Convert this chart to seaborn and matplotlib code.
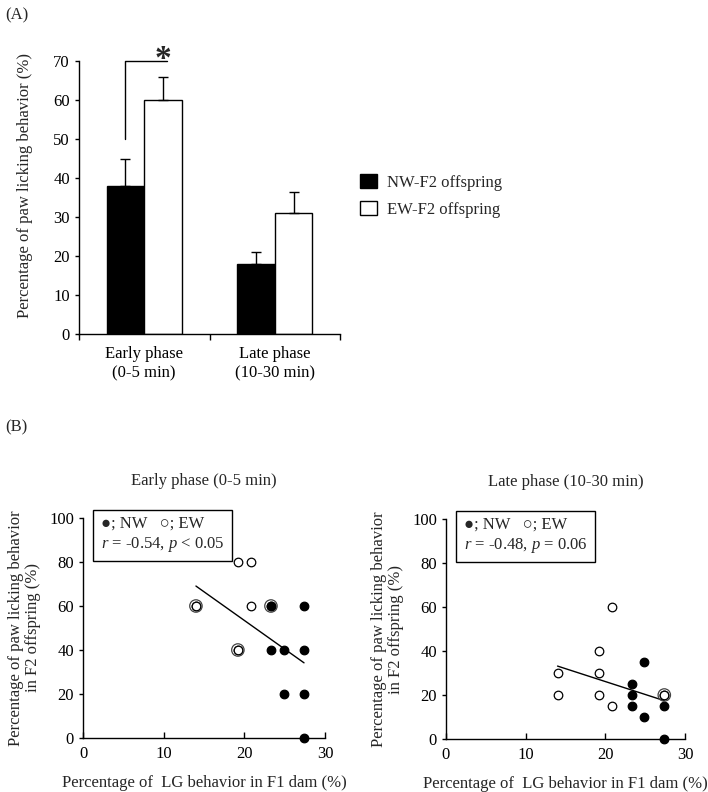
import numpy as np
import pandas as pd
import matplotlib
matplotlib.use("Agg")
import matplotlib.pyplot as plt
import seaborn as sns

# --- (A) bar chart data ---
phases = ["Early phase\n(0-5 min)", "Late phase\n(10-30 min)"]
groups = ["NW-F2 offspring", "EW-F2 offspring"]
nw_means = [38, 18]
nw_sem = [7, 3]
ew_means = [60, 31]
ew_sem = [6, 5.5]

# --- (B) scatter data: LG behavior of F1 dam vs paw licking of F2 offspring ---
early_nw_x = [23.3, 27.4, 23.3, 24.9, 27.4, 24.9, 27.4, 27.4]
early_nw_y = [60, 60, 40, 40, 40, 20, 20, 0]
early_ew_x = [19.2, 20.8, 14.0, 14.0, 20.8, 19.2, 19.2, 23.3]
early_ew_y = [80, 80, 60, 60, 60, 40, 40, 60]

late_nw_x = [24.9, 23.3, 23.3, 23.3, 24.9, 27.4, 27.4, 27.4]
late_nw_y = [35, 25, 20, 15, 10, 20, 15, 0]
late_ew_x = [20.8, 19.2, 14.0, 19.2, 14.0, 19.2, 20.8, 27.4]
late_ew_y = [60, 40, 30, 30, 20, 20, 15, 20]

early_stats = "$r$ = -0.54, $p$ < 0.05"
late_stats = "$r$ = -0.48, $p$ = 0.06"

sns.set_style("ticks")
plt.rcParams["font.family"] = ["Liberation Serif", "DejaVu Sans"]
plt.rcParams["mathtext.fontset"] = "custom"
plt.rcParams["mathtext.rm"] = "Liberation Serif"
plt.rcParams["mathtext.it"] = "Liberation Serif:italic"
plt.rcParams["font.size"] = 12
plt.rcParams["axes.linewidth"] = 1
plt.rcParams["axes.edgecolor"] = "black"
plt.rcParams["xtick.color"] = "black"
plt.rcParams["ytick.color"] = "black"

W, H = 708, 792
fig = plt.figure(figsize=(W / 100, H / 100), dpi=100)
ax_bar = fig.add_axes([79 / W, 1 - 334 / H, 261 / W, 273 / H])
ax_e = fig.add_axes([83 / W, 1 - 738 / H, 242 / W, 220 / H])
ax_l = fig.add_axes([446 / W, 1 - 739 / H, 239 / W, 220 / H])

# ---------------- (A) ----------------
df_bar = pd.DataFrame({
    "phase": phases * 2,
    "group": [groups[0]] * 2 + [groups[1]] * 2,
    "value": nw_means + ew_means,
})
sns.barplot(data=df_bar, x="phase", y="value", hue="group", hue_order=groups,
            palette=["black", "white"], edgecolor="black", linewidth=1,
            width=0.575, errorbar=None, saturation=1, ax=ax_bar)

centers = {}
for cont, g, errs in zip(ax_bar.containers, groups, [nw_sem, ew_sem]):
    xs = [p.get_x() + p.get_width() / 2 for p in cont]
    hs = [p.get_height() for p in cont]
    centers[g] = xs
    ax_bar.errorbar(xs, hs, yerr=[np.zeros(len(errs)), errs], fmt="none",
                    ecolor="black", elinewidth=1, capsize=3.5, capthick=1)

# significance bracket
x0 = centers[groups[0]][0]
x1 = centers[groups[1]][0]
ax_bar.plot([x0, x0, x1 + 0.03], [50, 70, 70], color="black", lw=1, clip_on=False)
ax_bar.text(x1, 68.3, "*", ha="center", va="baseline", fontsize=24, fontweight="bold")

ax_bar.set_xlim(-0.5, 1.5)
ax_bar.set_ylim(0, 70)
ax_bar.set_yticks(range(0, 71, 10))
ax_bar.set_xticks([0, 1])
ax_bar.set_xticklabels(phases)
ax_bar.set_xticks([-0.5, 0.5, 1.5], minor=True)
ax_bar.tick_params(axis="x", which="major", length=0, pad=9, labelsize=12)
ax_bar.tick_params(axis="x", which="minor", length=4, width=1, direction="out")
ax_bar.tick_params(axis="y", length=3, width=1, labelsize=12)
ax_bar.set_xlabel("")
ax_bar.set_ylabel("Percentage of paw licking behavior (%)", fontsize=12)
ax_bar.yaxis.set_label_coords(-0.175, 0.545)
sns.despine(ax=ax_bar)
sns.move_legend(ax_bar, "center left", bbox_to_anchor=(1.077, 0.505), frameon=False,
                title=None, handlelength=1.0, handleheight=0.9, handletextpad=0.6,
                labelspacing=0.6, borderpad=0, borderaxespad=0, fontsize=12)

# ---------------- (B) ----------------
panels = [
    (ax_e, "Early phase (0-5 min)", early_nw_x, early_nw_y, early_ew_x, early_ew_y, early_stats, "NW"),
    (ax_l, "Late phase (10-30 min)", late_nw_x, late_nw_y, late_ew_x, late_ew_y, late_stats, "EW"),
]
for ax, title, nx, ny, ex, ey, stats, on_top in panels:
    df = pd.DataFrame({
        "x": nx + ex,
        "y": ny + ey,
        "group": ["NW"] * len(nx) + ["EW"] * len(ex),
    })
    sns.regplot(x=np.array(nx + ex), y=np.array(ny + ey), scatter=False, ci=None,
                truncate=True, color="black", line_kws={"lw": 1}, ax=ax)
    z_nw = 4 if on_top == "NW" else 3
    z_ew = 4 if on_top == "EW" else 3
    nw = df[df.group == "NW"]
    ew = df[df.group == "EW"]
    ax.scatter(ew.x, ew.y, s=38, facecolors="white", edgecolors="black",
               linewidths=0.9, zorder=z_ew, clip_on=False)
    ax.scatter(nw.x, nw.y, s=38, facecolors="black", edgecolors="black",
               linewidths=0.9, zorder=z_nw, clip_on=False)
    # overlapping points get an extra ring
    counts = df.groupby(["x", "y"]).size().reset_index(name="n")
    dup = counts[counts.n > 1]
    ax.scatter(dup.x, dup.y, s=80, facecolors="none", edgecolors="#444444",
               linewidths=0.9, zorder=5, clip_on=False)

    ax.set_xlim(0, 30)
    ax.set_ylim(0, 100)
    ax.set_xticks([0, 10, 20, 30])
    ax.set_yticks(range(0, 101, 20))
    ax.tick_params(axis="x", direction="in", length=4, width=1, labelsize=12, pad=6)
    ax.tick_params(axis="y", direction="out", length=3, width=1, labelsize=12)
    ax.set_title(title, fontsize=12, pad=24)
    ax.set_xlabel("Percentage of  LG behavior in F1 dam (%)", fontsize=12, labelpad=9)
    ax.set_ylabel("Percentage of paw licking behavior\nin F2 offspring (%)",
                  fontsize=12, labelpad=6, linespacing=1.05)
    ax.text(0.074, 1.012, "\u25cf; NW   \u25cb; EW\n" + stats, transform=ax.transAxes,
            ha="left", va="top", fontsize=12, linespacing=1.25, zorder=6,
            bbox=dict(boxstyle="square,pad=0.45", fc="white", ec="black", lw=1))
    sns.despine(ax=ax)

fig.text(5 / W, 1 - 15 / H, "(A)", ha="left", va="center", fontsize=12)
fig.text(5 / W, 1 - 427 / H, "(B)", ha="left", va="center", fontsize=12)

fig.savefig("out.png", dpi=100)
